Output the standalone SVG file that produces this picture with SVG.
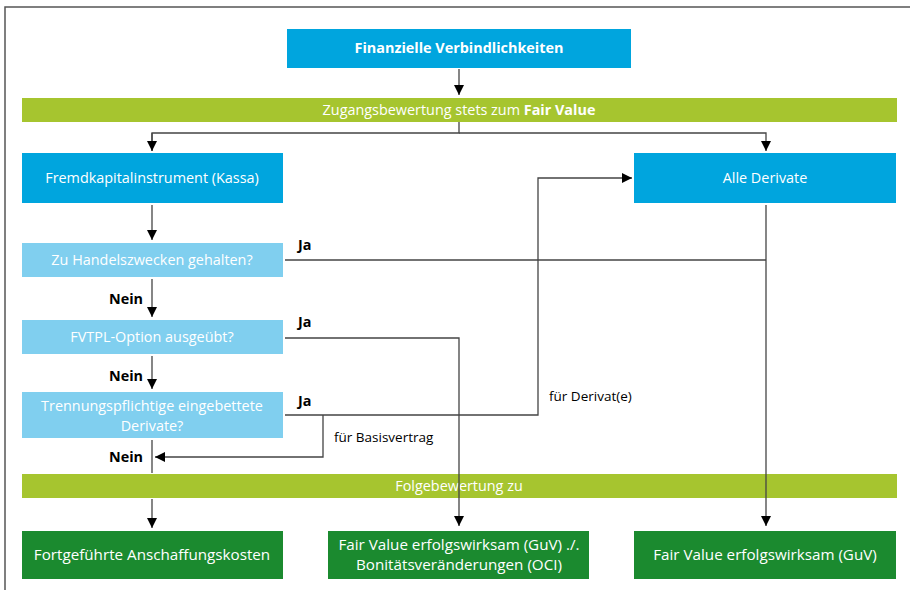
<svg xmlns="http://www.w3.org/2000/svg" width="910" height="590" viewBox="0 0 910 590">
<style>
text{font-family:"Open Sans","Noto Sans","DejaVu Sans",sans-serif;font-size:14.4px}
.w{fill:#ffffff;text-anchor:middle}
.big{font-size:15.2px}
.b{font-weight:bold}
.k{fill:#000000}
.lbl{font-size:13.5px}
.blue{fill:#00a5de}
.lblue{fill:#80cfef}
.lime{fill:#a6c52f}
.dg{fill:#1b8a2f}
.ln{fill:none;stroke:#444;stroke-width:1.3}
.frame{fill:none;stroke:#555;stroke-width:1.5}
</style>
<defs>
<marker id="ah" viewBox="0 0 10 10" refX="10" refY="5" markerWidth="10" markerHeight="10" markerUnits="userSpaceOnUse" orient="auto">
<path d="M0,0 L10,5 L0,10 z" fill="#000"/>
</marker>
</defs>
<path class="frame" d="M5,590 V7 H910"/>
<g id="n-fv">
<rect class="blue" x="287" y="29" width="344" height="39"/>
<text class="w b" x="459" y="53">Finanzielle Verbindlichkeiten</text>
</g>
<g id="n-zugang">
<rect class="lime" x="22" y="98" width="875" height="24"/>
<text class="w" x="459" y="115">Zugangsbewertung stets zum <tspan class="b">Fair Value</tspan></text>
</g>
<g id="n-fk">
<rect class="blue" x="22" y="153" width="261" height="50"/>
<text class="w" x="152" y="183">Fremdkapitalinstrument (Kassa)</text>
</g>
<g id="n-der">
<rect class="blue" x="634" y="153" width="262" height="50"/>
<text class="w" x="765" y="183">Alle Derivate</text>
</g>
<g id="n-q1">
<rect class="lblue" x="22" y="243" width="261" height="34"/>
<text class="w" x="152" y="265">Zu Handelszwecken gehalten?</text>
</g>
<g id="n-q2">
<rect class="lblue" x="22" y="320" width="261" height="34"/>
<text class="w" x="152" y="342">FVTPL-Option ausgeübt?</text>
</g>
<g id="n-q3">
<rect class="lblue" x="22" y="392" width="261" height="46"/>
<text class="w" x="152" y="411">Trennungspflichtige eingebettete</text>
<text class="w" x="152" y="431">Derivate?</text>
</g>
<g id="n-folge">
<rect class="lime" x="22" y="474" width="875" height="24"/>
<text class="w" x="459" y="491">Folgebewertung zu</text>
</g>
<g id="n-ak">
<rect class="dg" x="22" y="531" width="261" height="48"/>
<text class="w big" x="152" y="560">Fortgeführte Anschaffungskosten</text>
</g>
<g id="n-oci">
<rect class="dg" x="328" y="531" width="261" height="48"/>
<text class="w big" x="459" y="550">Fair Value erfolgswirksam (GuV) ./.</text>
<text class="w big" x="459" y="570">Bonitätsveränderungen (OCI)</text>
</g>
<g id="n-guv">
<rect class="dg" x="634" y="531" width="262" height="48"/>
<text class="w big" x="765" y="560">Fair Value erfolgswirksam (GuV)</text>
</g>
<g id="connectors">
<path class="ln" d="M459,69 V95" marker-end="url(#ah)"/>
<path class="ln" d="M459,122 V133 H152 V151"/>
<path class="ln" d="M152,133 V151" marker-end="url(#ah)"/>
<path class="ln" d="M459,133 H766 V151" marker-end="url(#ah)"/>
<path class="ln" d="M152,205 V240" marker-end="url(#ah)"/>
<path class="ln" d="M285,260 H766"/>
<path class="ln" d="M766,205 V526" marker-end="url(#ah)"/>
<path class="ln" d="M152,279 V317" marker-end="url(#ah)"/>
<path class="ln" d="M285,338 H459 V526" marker-end="url(#ah)"/>
<path class="ln" d="M152,356 V389" marker-end="url(#ah)"/>
<path class="ln" d="M285,415 H538 V178 H632" marker-end="url(#ah)"/>
<path class="ln" d="M323,415 V457 H155" marker-end="url(#ah)"/>
<path class="ln" d="M152,440 V473"/>
<path class="ln" d="M152,499 V528" marker-end="url(#ah)"/>
<text class="k b" x="298" y="250">Ja</text>
<text class="k b" x="298" y="327">Ja</text>
<text class="k b" x="298" y="406">Ja</text>
<text class="k b" x="109" y="304">Nein</text>
<text class="k b" x="109" y="381">Nein</text>
<text class="k b" x="109" y="462">Nein</text>
<text class="k lbl" x="334" y="442">für Basisvertrag</text>
<text class="k lbl" x="549" y="401">für Derivat(e)</text>
</g>
</svg>
